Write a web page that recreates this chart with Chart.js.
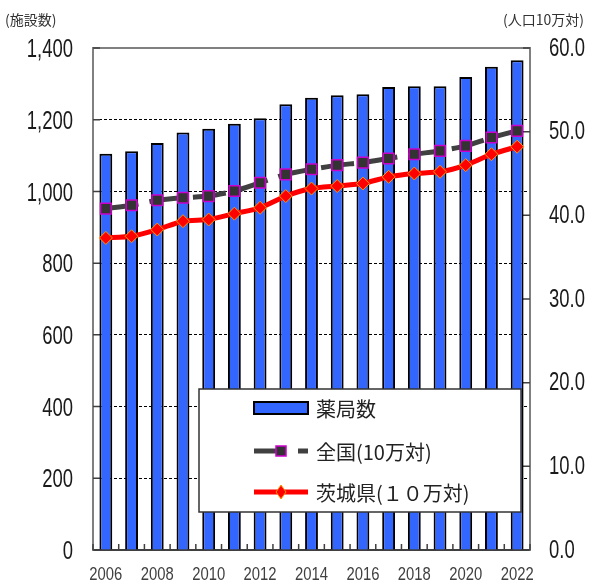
<!DOCTYPE html>
<html lang="ja">
<head>
<meta charset="utf-8">
<title>薬局数の推移</title>
<script src="https://cdn.jsdelivr.net/npm/chart.js@4.4.0/dist/chart.umd.min.js"></script>
<style>
    html, body { margin: 0; padding: 0; background: #fff; }
    #wrap { position: relative; width: 590px; height: 583px; }
</style>
</head>
<body>
<div id="wrap"><canvas id="pharmacy-chart"></canvas></div>
<script>
// data
var years = ['2006', '2007', '2008', '2009', '2010', '2011', '2012', '2013', '2014',
    '2015', '2016', '2017', '2018', '2019', '2020', '2021', '2022'];
var pharmacyCount = [1105, 1112, 1135, 1164, 1175, 1189, 1204, 1243, 1261,
    1268, 1271, 1291, 1293, 1293, 1319, 1348, 1366];
var nationalPer100k = [40.8, 41.2, 41.8, 42.1, 42.3, 42.9, 43.9, 44.9, 45.5,
    46.0, 46.3, 46.8, 47.3, 47.7, 48.3, 49.3, 50.1];
var ibarakiPer100k = [37.3, 37.5, 38.3, 39.3, 39.5, 40.2, 40.9, 42.3, 43.2,
    43.5, 43.8, 44.6, 45.0, 45.2, 46.0, 47.3, 48.2];
var leftTicks = [0, 200, 400, 600, 800, 1000, 1200, 1400];
var rightTicks = [0, 10, 20, 30, 40, 50, 60];

var sansFont = "'Liberation Sans', Arial, sans-serif";
var jpFont = "'Noto Sans CJK JP', 'Noto Sans', sans-serif";

// narrow look: no condensed face is installed, so squeeze the regular one
function narrowText(ctx, text, x, y, align, size, squeeze, color) {
    ctx.save();
    ctx.font = size + 'px ' + sansFont;
    ctx.fillStyle = color;
    ctx.textBaseline = 'middle';
    ctx.textAlign = align;
    ctx.translate(x, y);
    ctx.scale(squeeze, 1);
    ctx.fillText(text, 0, 0);
    ctx.restore();
}

document.addEventListener("DOMContentLoaded", function () {

    // border on top + inward tick marks
    var frame = {
        id: 'frame',
        beforeDatasetsDraw: function (chart) {
            var ctx = chart.ctx, a = chart.chartArea;
            var sx = chart.scales.x, sy = chart.scales.y, sy1 = chart.scales.y1;
            ctx.save();
            ctx.strokeStyle = '#808080';
            ctx.lineWidth = 2;
            ctx.beginPath();
            ctx.moveTo(a.left - 1, a.top);
            ctx.lineTo(a.right + 1, a.top);
            ctx.stroke();

            ctx.strokeStyle = '#404040';
            ctx.lineWidth = 1.5;
            ctx.beginPath();
            sy.ticks.forEach(function (t) {
                var p = sy.getPixelForValue(t.value);
                ctx.moveTo(a.left, p);
                ctx.lineTo(a.left + 7, p);
            });
            sy1.ticks.forEach(function (t) {
                var p = sy1.getPixelForValue(t.value);
                ctx.moveTo(a.right - 7, p);
                ctx.lineTo(a.right, p);
            });
            var step = sx.getPixelForValue(1) - sx.getPixelForValue(0);
            for (var i = 0; i <= years.length; i++) {
                var px = sx.getPixelForValue(0) - step / 2 + i * step;
                ctx.moveTo(px, a.bottom);
                ctx.lineTo(px, a.bottom - 6);
            }
            ctx.stroke();
            ctx.restore();
        }
    };

    // tick labels of the three axes, placed from the scales
    var tickText = {
        id: 'tickText',
        afterDraw: function (chart) {
            var ctx = chart.ctx, a = chart.chartArea;
            var sx = chart.scales.x, sy = chart.scales.y, sy1 = chart.scales.y1;
            sy.ticks.forEach(function (t) {
                narrowText(ctx, t.value.toLocaleString('en-US'), a.left - 20,
                    sy.getPixelForValue(t.value) + 2, 'right', 26, 0.71, '#1a1a1a');
            });
            sy1.ticks.forEach(function (t) {
                narrowText(ctx, t.value.toFixed(1), a.right + 19,
                    sy1.getPixelForValue(t.value) + 0.5, 'left', 26, 0.71, '#1a1a1a');
            });
            years.forEach(function (y, i) {
                if (i % 2 === 0) {
                    narrowText(ctx, y, sx.getPixelForValue(i), a.bottom + 25,
                        'center', 19, 0.78, '#404040');
                }
            });
        }
    };

    // legend box inside the plot + unit labels
    var boxLegend = {
        id: 'boxLegend',
        afterDatasetsDraw: function (chart) {
            var ctx = chart.ctx;
            var ds = chart.data.datasets;
            ctx.save();
            ctx.fillStyle = '#fff';
            ctx.fillRect(199, 389, 322, 123);
            ctx.strokeStyle = '#333';
            ctx.lineWidth = 1.5;
            ctx.strokeRect(199, 389, 322, 123);

            var sx0 = 254, sx1 = 308, mid = 281;
            var rows = [408, 451, 492];

            // bar swatch
            ctx.fillStyle = ds[0].backgroundColor;
            ctx.fillRect(sx0, rows[0] - 6, sx1 - sx0, 12);
            ctx.strokeStyle = ds[0].borderColor;
            ctx.lineWidth = 2;
            ctx.strokeRect(sx0, rows[0] - 6, sx1 - sx0, 12);

            // national line swatch
            ctx.strokeStyle = ds[1].borderColor;
            ctx.lineWidth = ds[1].borderWidth;
            ctx.setLineDash([30, 14]);
            ctx.beginPath();
            ctx.moveTo(sx0, rows[1]);
            ctx.lineTo(sx1, rows[1]);
            ctx.stroke();
            ctx.setLineDash([]);
            ctx.fillStyle = ds[1].pointBackgroundColor;
            ctx.fillRect(mid - 5, rows[1] - 5, 10, 10);
            ctx.strokeStyle = ds[1].pointBorderColor;
            ctx.lineWidth = 1.5;
            ctx.strokeRect(mid - 5, rows[1] - 5, 10, 10);

            // ibaraki line swatch
            ctx.strokeStyle = ds[2].borderColor;
            ctx.lineWidth = ds[2].borderWidth;
            ctx.beginPath();
            ctx.moveTo(sx0, rows[2]);
            ctx.lineTo(sx1, rows[2]);
            ctx.stroke();
            ctx.fillStyle = ds[2].pointBackgroundColor;
            ctx.strokeStyle = ds[2].pointBorderColor;
            ctx.lineWidth = 1;
            ctx.beginPath();
            ctx.moveTo(mid, rows[2] - 7);
            ctx.lineTo(mid + 5, rows[2]);
            ctx.lineTo(mid, rows[2] + 7);
            ctx.lineTo(mid - 5, rows[2]);
            ctx.closePath();
            ctx.fill();
            ctx.stroke();

            ctx.fillStyle = '#222';
            ctx.font = '20px ' + jpFont;
            ctx.textBaseline = 'middle';
            ctx.textAlign = 'left';
            ctx.fillText('薬局数', 316, rows[0] + 1);
            ctx.fillText('全国(10万対)', 316, rows[1] + 1);
            ctx.fillText('茨城県(１０万対)', 316, rows[2] + 1);

            ctx.font = '14px ' + jpFont;
            ctx.fillStyle = '#333';
            ctx.fillText('(施設数)', 5, 20);
            ctx.textAlign = 'right';
            ctx.fillText('(人口10万対)', 584, 20);
            ctx.restore();
        }
    };

    var ctx1 = document.getElementById('pharmacy-chart');
    if (ctx1) {
        var myChart = new Chart(ctx1.getContext('2d'), {
            type: 'bar',
            data: {
                labels: years,
                datasets: [{
                    label: '薬局数',
                    data: pharmacyCount,
                    yAxisID: 'y',
                    backgroundColor: '#3366FF',
                    borderColor: '#000',
                    borderWidth: 2,
                    barPercentage: 0.5,
                    categoryPercentage: 1,
                    order: 3
                }, {
                    type: 'line',
                    label: '全国(10万対)',
                    data: nationalPer100k,
                    yAxisID: 'y1',
                    borderColor: '#404040',
                    borderWidth: 5,
                    borderDash: [33, 11],
                    tension: 0.2,
                    pointStyle: 'rect',
                    pointRadius: 7.5,
                    pointBackgroundColor: '#333333',
                    pointBorderColor: '#CC00CC',
                    pointBorderWidth: 1.5,
                    order: 2
                }, {
                    type: 'line',
                    label: '茨城県(１０万対)',
                    data: ibarakiPer100k,
                    yAxisID: 'y1',
                    borderColor: '#FF0000',
                    borderWidth: 5,
                    tension: 0.2,
                    pointStyle: 'rectRot',
                    pointRadius: 6.5,
                    pointBackgroundColor: '#FF0000',
                    pointBorderColor: '#FF9900',
                    pointBorderWidth: 1,
                    order: 1
                }]
            },
            options: {
                responsive: true,
                maintainAspectRatio: false,
                animation: false,
                layout: { padding: { top: 48, left: 0, right: 0, bottom: 0 } },
                plugins: {
                    legend: { display: false },
                    tooltip: { enabled: false }
                },
                scales: {
                    x: {
                        offset: true,
                        grid: { display: false, drawTicks: false },
                        border: { display: true, color: '#404040', width: 2 },
                        ticks: { display: false },
                        afterFit: function (s) { s.height = 33; }
                    },
                    y: {
                        position: 'left',
                        min: 0,
                        max: 1400,
                        afterBuildTicks: function (s) {
                            s.ticks = leftTicks.map(function (v) { return { value: v }; });
                        },
                        grid: {
                            drawTicks: false,
                            lineWidth: 1,
                            color: function (c) {
                                var v = c.tick ? c.tick.value : 0;
                                return (v === 0 || v === 1400) ? 'rgba(0,0,0,0)' : '#000';
                            }
                        },
                        border: { display: true, color: '#808080', width: 2, dash: [3, 2] },
                        ticks: { display: false },
                        afterFit: function (s) { s.width = 93; }
                    },
                    y1: {
                        position: 'right',
                        min: 0,
                        max: 60,
                        afterBuildTicks: function (s) {
                            s.ticks = rightTicks.map(function (v) { return { value: v }; });
                        },
                        grid: { drawOnChartArea: false, drawTicks: false },
                        border: { display: true, color: '#808080', width: 2 },
                        ticks: { display: false },
                        afterFit: function (s) { s.width = 60; }
                    }
                }
            },
            plugins: [frame, boxLegend, tickText]
        });
    }
});
</script>
</body>
</html>
